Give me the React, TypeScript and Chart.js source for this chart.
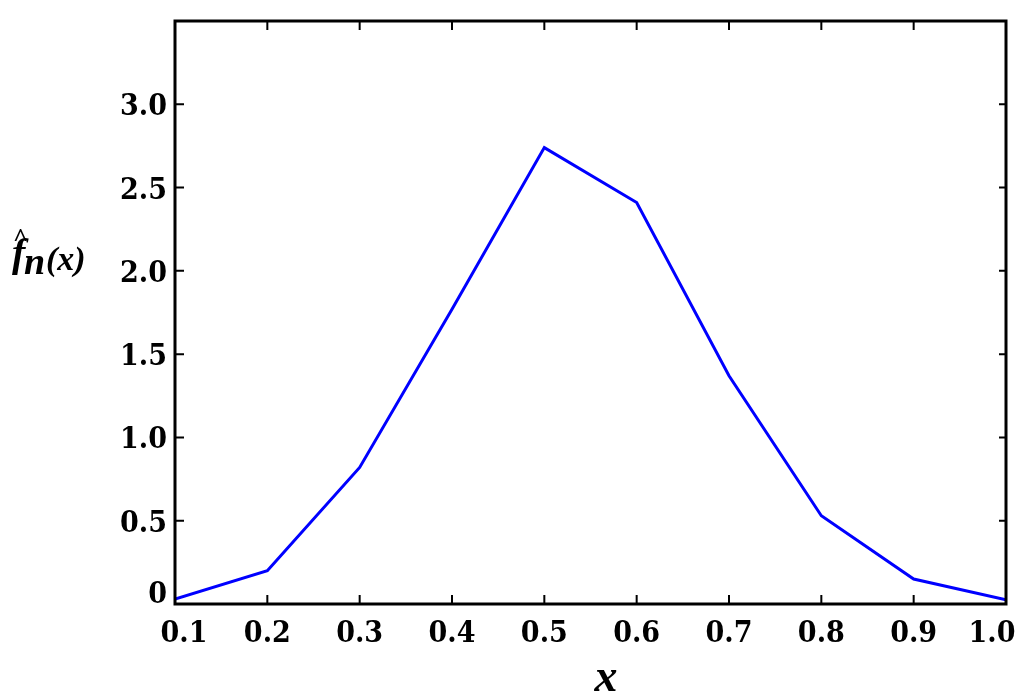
import React, { useEffect, useRef } from "react";
import { Chart, registerables } from "chart.js";

Chart.register(...registerables);

const xValues = [0.1, 0.2, 0.3, 0.4, 0.5, 0.6, 0.7, 0.8, 0.9, 1.0];
const densityValues = [0.03, 0.2, 0.82, 1.77, 2.74, 2.41, 1.37, 0.53, 0.15, 0.025];
const xTickValues = [0.1, 0.2, 0.3, 0.4, 0.5, 0.6, 0.7, 0.8, 0.9, 1.0];
const yTickLabels = ["0", "0.5", "1.0", "1.5", "2.0", "2.5", "3.0"];
const xAxisTitle = "x";
const yAxisTitle = { base: "f", hat: "^", sub: "n", arg: "(x)" };

const TICK_FONT = "bold 30px 'DejaVu Serif Condensed', 'DejaVu Serif', serif";

const framePlugin = {
  id: "frameAndLabels",
  afterDraw(chart: any) {
    const { ctx, chartArea } = chart;
    const { left, right, top, bottom } = chartArea;
    const xs = chart.scales.x;
    const ys = chart.scales.y;
    ctx.save();
    // frame
    ctx.strokeStyle = "#000";
    ctx.lineWidth = 3;
    ctx.strokeRect(left, top, right - left, bottom - top);
    // inward ticks
    ctx.lineWidth = 2;
    ctx.beginPath();
    xs.ticks.forEach((t: any) => {
      const px = xs.getPixelForValue(t.value);
      ctx.moveTo(px, bottom);
      ctx.lineTo(px, bottom - 9);
      ctx.moveTo(px, top);
      ctx.lineTo(px, top + 9);
    });
    ys.ticks.forEach((t: any) => {
      const py = ys.getPixelForValue(t.value);
      ctx.moveTo(left, py);
      ctx.lineTo(left + 9, py);
      ctx.moveTo(right, py);
      ctx.lineTo(right - 7, py);
    });
    ctx.stroke();
    // tick labels
    ctx.fillStyle = "#000";
    ctx.font = TICK_FONT;
    ctx.textAlign = "right";
    ctx.textBaseline = "alphabetic";
    yTickLabels.forEach((lab) => {
      const v = parseFloat(lab);
      let py = ys.getPixelForValue(v);
      if (v === 0) py -= 12;
      ctx.fillText(lab, left - 8, py + 11);
    });
    ctx.textAlign = "center";
    xTickValues.forEach((v, i) => {
      let px = xs.getPixelForValue(v);
      if (i === 0) px += 9;
      if (i === xTickValues.length - 1) px -= 14;
      ctx.fillText(v.toFixed(1), px, bottom + 38);
    });
    // axis titles
    ctx.font = "italic bold 46px 'Liberation Serif', serif";
    ctx.textAlign = "center";
    ctx.fillText(xAxisTitle, 606, 691);
    ctx.textAlign = "left";
    ctx.font = "italic bold 40px 'Liberation Serif', serif";
    ctx.fillText(yAxisTitle.base, 12, 266);
    ctx.font = "bold 26px 'Liberation Serif', serif";
    ctx.fillText(yAxisTitle.hat, 13, 246);
    ctx.font = "italic bold 38px 'Liberation Serif', serif";
    ctx.fillText(yAxisTitle.sub, 24, 274);
    ctx.font = "italic bold 34px 'Liberation Serif', serif";
    ctx.fillText(yAxisTitle.arg, 46, 270);
    ctx.restore();
  },
};

export default function App() {
  const canvasRef = useRef<HTMLCanvasElement | null>(null);

  useEffect(() => {
    const canvas = canvasRef.current;
    if (!canvas) return;
    const chart = new Chart(canvas, {
      type: "line",
      data: {
        datasets: [
          {
            data: xValues.map((x, i) => ({ x, y: densityValues[i] })),
            borderColor: "#0000ff",
            borderWidth: 3,
            pointRadius: 0,
            tension: 0,
            fill: false,
          },
        ],
      },
      options: {
        animation: false,
        responsive: true,
        maintainAspectRatio: false,
        layout: { padding: { left: 0, right: 18, top: 21, bottom: 0 } },
        plugins: { legend: { display: false }, tooltip: { enabled: false } },
        scales: {
          x: {
            type: "linear",
            min: 0.1,
            max: 1.0,
            ticks: { display: false, stepSize: 0.1 },
            grid: { display: false },
            border: { display: false },
            afterFit: (s: any) => {
              s.height = 96;
            },
          },
          y: {
            type: "linear",
            min: 0,
            max: 3.5,
            ticks: { display: false, stepSize: 0.5 },
            grid: { display: false },
            border: { display: false },
            afterFit: (s: any) => {
              s.width = 175;
            },
          },
        },
      },
      plugins: [framePlugin],
    });
    return () => chart.destroy();
  }, []);

  return (
    <div style={{ position: "fixed", left: 0, top: 0, width: 1024, height: 700, background: "#fff" }}>
      <canvas ref={canvasRef} />
    </div>
  );
}
